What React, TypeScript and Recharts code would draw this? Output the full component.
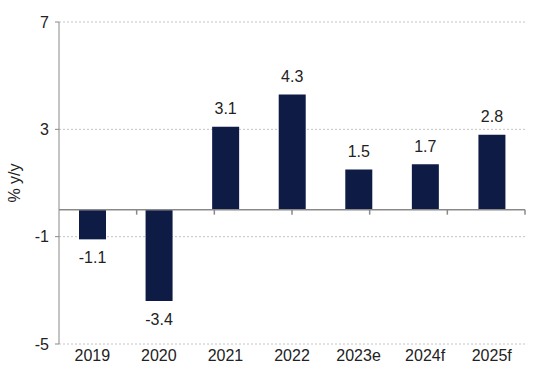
import { Bar, BarChart, CartesianGrid, LabelList, ReferenceLine, XAxis, YAxis } from 'recharts'

const years = ['2019', '2020', '2021', '2022', '2023e', '2024f', '2025f']
const growth = [-1.1, -3.4, 3.1, 4.3, 1.5, 1.7, 2.8]
const yTicks = [-5, -1, 3, 7]
const dividers = [1, 2, 3, 4, 5, 6]

const data = years.map((year, i) => ({ year, value: growth[i] }))

const AXIS = '#898989'
const NAVY = '#0e1b45'
const FONT = '"Liberation Sans", Arial, sans-serif'

function ValueLabel(props: any) {
  const { x, y, width, height, value } = props
  const top = Math.min(y, y + height)
  const bottom = Math.max(y, y + height)
  const cy = value < 0 ? bottom + 18 : top - 18
  return (
    <text
      x={x + width / 2}
      y={cy}
      dy="0.35em"
      textAnchor="middle"
      fontSize={16}
      fontFamily={FONT}
      fill="#222"
    >
      {value}
    </text>
  )
}

export default function App() {
  return (
    <div style={{ width: 548, height: 375 }}>
      <style>{'body{margin:0}'}</style>
      <BarChart
        width={548}
        height={375}
        data={data}
        margin={{ top: 22, right: 23, bottom: 0, left: 0 }}
      >
        <CartesianGrid vertical={false} stroke="#c4c4c4" strokeDasharray="2 2" />
        <XAxis
          dataKey="year"
          axisLine={false}
          tickLine={false}
          height={31}
          tickMargin={0}
          tick={{ fontSize: 16, fontFamily: FONT, fill: '#222' }}
        />
        <XAxis xAxisId="num" type="number" domain={[0, 7]} hide />
        <YAxis
          domain={[-5, 7]}
          ticks={yTicks}
          width={59}
          stroke={AXIS}
          tickSize={4}
          tickMargin={6}
          tick={{ fontSize: 16, fontFamily: FONT, fill: '#222' }}
          label={{
            value: '% y/y',
            angle: -90,
            position: 'insideLeft',
            offset: 14,
            style: { fontSize: 16, fontFamily: FONT, fill: '#222', textAnchor: 'middle' },
          }}
        />
        <ReferenceLine y={0} stroke={AXIS} strokeWidth={1.5} />
        {dividers.map((d) => (
          <ReferenceLine
            key={d}
            xAxisId="num"
            segment={[
              { x: d, y: 0 },
              { x: d, y: -0.18 },
            ]}
            stroke={AXIS}
            strokeWidth={1.5}
          />
        ))}
        <Bar dataKey="value" fill={NAVY} barSize={27} isAnimationActive={false}>
          <LabelList dataKey="value" content={ValueLabel} />
        </Bar>
      </BarChart>
    </div>
  )
}
